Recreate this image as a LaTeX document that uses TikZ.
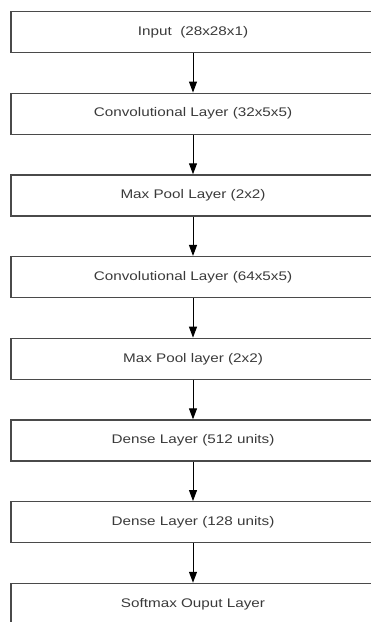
\documentclass[tikz,border=0pt]{standalone}
\usepackage{fontspec}
\setmainfont{Liberation Sans}
\usepackage{graphicx}
\usetikzlibrary{positioning, arrows.meta}
\definecolor{boxgray}{HTML}{4A4A4A}
\definecolor{txtgray}{HTML}{3A3A3A}
\newcommand{\wtext}[1]{\scalebox{1.22}[1]{#1}}

\begin{document}
\begin{tikzpicture}[
        x=1pt, y=-1pt,
        node distance=81.7pt, % center to center
        on grid,
        >={Triangle[length=11pt, width=8pt]},
        layer/.style={rectangle, draw=boxgray, line width=1.3pt, minimum width=364pt, minimum height=41pt, inner sep=0pt, font=\fontsize{12.5}{14}\selectfont, text=txtgray},
        every edge/.style={draw, ->, line width=1pt, black}
      ]
        \useasboundingbox (0,0) rectangle (371,622);
        % Layers stacked top to bottom
        \node[layer] (l_input) at (193,32) {\wtext{Input \ (28x28x1)}};
        \node[layer, below=of l_input] (l_conv1) {\wtext{Convolutional Layer (32x5x5)}};
        \node[layer, below=of l_conv1] (l_pool1) {\wtext{Max Pool Layer (2x2)}};
        \node[layer, below=of l_pool1] (l_conv2) {\wtext{Convolutional Layer (64x5x5)}};
        \node[layer, below=of l_conv2] (l_pool2) {\wtext{Max Pool layer (2x2)}};
        \node[layer, below=of l_pool2] (l_dense1) {\wtext{Dense Layer (512 units)}};
        \node[layer, below=of l_dense1] (l_dense2) {\wtext{Dense Layer (128 units)}};
        \node[layer, below=of l_dense2] (l_out) {\wtext{Softmax Ouput Layer}};

        % Arrows between layers
        \path
        (l_input) edge (l_conv1)
        (l_conv1) edge (l_pool1)
        (l_pool1) edge (l_conv2)
        (l_conv2) edge (l_pool2)
        (l_pool2) edge (l_dense1)
        (l_dense1) edge (l_dense2)
        (l_dense2) edge (l_out);
    \end{tikzpicture}
\end{document}
